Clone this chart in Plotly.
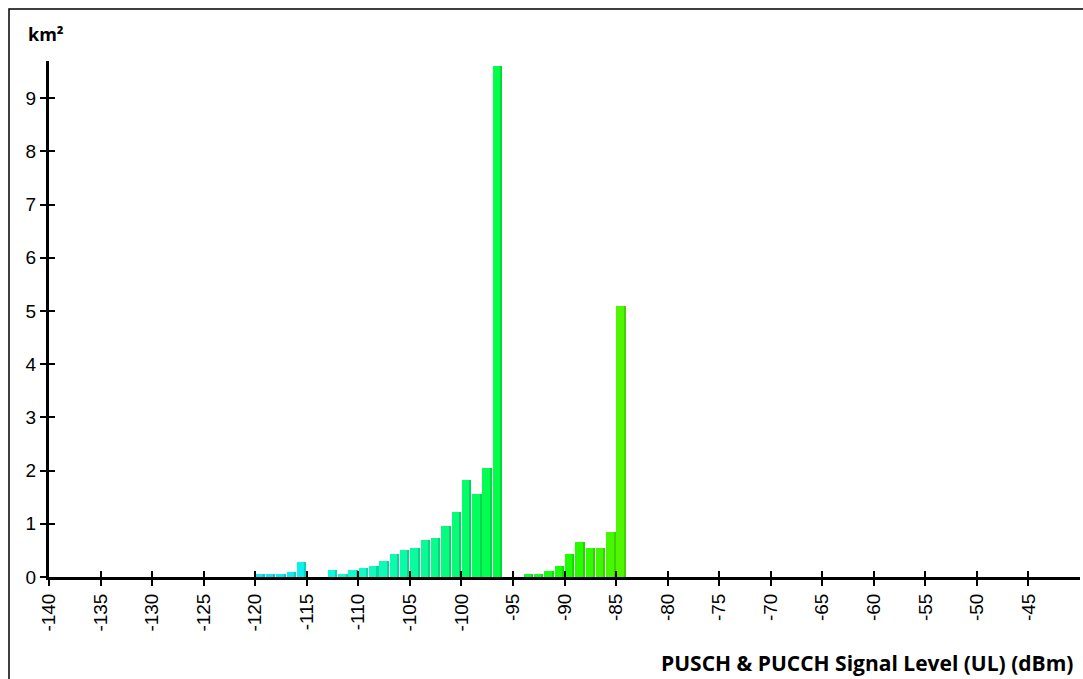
import plotly.graph_objects as go

# Signal level bins (dBm, left edge of each 1 dB bin) and area (km²)
levels = [-120, -119, -118, -117, -116,
          -113, -112, -111, -110, -109, -108, -107, -106, -105, -104, -103, -102, -101,
          -100, -99, -98, -97,
          -94, -93, -92, -91, -90, -89, -88, -87, -86, -85]
areas = [0.05, 0.05, 0.05, 0.09, 0.28,
         0.13, 0.05, 0.13, 0.16, 0.20, 0.31, 0.43, 0.51, 0.55, 0.69, 0.73, 0.95, 1.22,
         1.82, 1.56, 2.05, 9.60,
         0.05, 0.05, 0.12, 0.20, 0.43, 0.65, 0.54, 0.54, 0.84, 5.10]
x_ticks = list(range(-140, -44, 5))
y_ticks = list(range(0, 10))

# colour stops (level -> rgb)
stops = [(-120, (10, 230, 255)), (-112, (20, 250, 215)), (-104, (10, 250, 150)),
         (-97, (0, 255, 70)), (-90, (30, 255, 0)), (-85, (80, 245, 0))]


def colour(v, k=1.0):
    if v <= stops[0][0]:
        c = stops[0][1]
    elif v >= stops[-1][0]:
        c = stops[-1][1]
    else:
        for (a, ca), (b, cb) in zip(stops, stops[1:]):
            if a <= v <= b:
                t = (v - a) / (b - a)
                c = tuple(round(ca[i] + (cb[i] - ca[i]) * t) for i in range(3))
                break
    c = tuple(min(255, round(x * k)) for x in c)
    return "rgb(%d,%d,%d)" % c


colors = [colour(v) for v in levels]
dark = [colour(v, 0.85) for v in levels]

W, H = 1083, 679
L, R, T, B = 49, 3, 61, 102
PW, PH = W - L - R, H - T - B

fig = go.Figure()
fig.add_trace(go.Bar(
    x=[v + 0.5 for v in levels], y=areas, width=0.92,
    marker=dict(color=colors, line=dict(width=0)),
    hoverinfo="x+y", showlegend=False,
))
# darker right-hand shading of each bar
fig.add_trace(go.Bar(
    x=[v + 0.5 for v in levels], y=areas, width=0.2, offset=0.26,
    marker=dict(color=dark, line=dict(width=0)),
    hoverinfo="skip", showlegend=False,
))
# invisible trace for overlay axes (inside tick marks)
fig.add_trace(go.Scatter(x=[-140], y=[0], xaxis="x2", yaxis="y2",
                         mode="markers", marker=dict(opacity=0), showlegend=False,
                         hoverinfo="skip"))

tick_font = dict(family="Liberation Sans, Arial", size=19, color="#000")
fig.update_layout(
    width=W, height=H,
    margin=dict(l=L, r=R, t=T, b=B),
    paper_bgcolor="white", plot_bgcolor="white",
    bargap=0, barmode="overlay",
    xaxis=dict(range=[-140, -40], tickmode="array", tickvals=x_ticks,
               ticktext=[str(v) for v in x_ticks], tickangle=-90,
               ticks="outside", ticklen=6, tickwidth=2, tickcolor="#000",
               showline=True, linewidth=3, linecolor="#000",
               showgrid=False, zeroline=False, tickfont=tick_font),
    yaxis=dict(range=[0, 9.7], tickmode="array", tickvals=y_ticks,
               ticks="outside", ticklen=6, tickwidth=2, tickcolor="#000",
               showline=True, linewidth=3, linecolor="#000",
               showgrid=False, zeroline=False, tickfont=tick_font),
    xaxis2=dict(range=[-140, -40], overlaying="x", tickmode="array", tickvals=x_ticks,
                ticks="inside", ticklen=6, tickwidth=2, tickcolor="#000",
                showticklabels=False, showline=False, showgrid=False,
                zeroline=False, side="bottom", anchor="y2"),
    yaxis2=dict(range=[0, 9.7], overlaying="y", tickmode="array", tickvals=y_ticks,
                ticks="inside", ticklen=6, tickwidth=2, tickcolor="#000",
                showticklabels=False, showline=False, showgrid=False,
                zeroline=False, side="left", anchor="x2"),
    shapes=[dict(type="rect", xref="paper", yref="paper",
                 x0=(9 - L) / PW, x1=1 + 20 / PW, y0=-(B + 20) / PH, y1=1 + (T - 9) / PH,
                 line=dict(color="#000", width=1.5), fillcolor="rgba(0,0,0,0)",
                 layer="below")],
    annotations=[
        dict(text="<b>km²</b>", xref="paper", yref="paper",
             x=(26 - L) / PW, y=1 + (T - 34) / PH, xanchor="left", yanchor="middle",
             showarrow=False, font=dict(family="Open Sans", size=18, color="#000")),
        dict(text="<b>PUSCH & PUCCH Signal Level (UL) (dBm)</b>", xref="paper", yref="paper",
             x=(1075 - L) / PW, y=-(663 - (H - B)) / PH, xanchor="right", yanchor="middle",
             showarrow=False, font=dict(family="Open Sans", size=21, color="#000")),
    ],
)
fig.write_html("out.html", config={"displayModeBar": False},
               post_script="document.body.style.margin='0';document.body.style.padding='0';")
